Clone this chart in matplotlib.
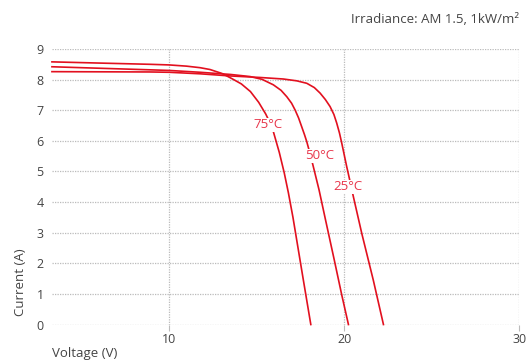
import matplotlib
matplotlib.use("Agg")
import matplotlib.pyplot as plt

# I-V curves (voltage in V, current in A)
v_75 = [3.31, 6.06, 8.91, 10.0, 11.0, 11.77, 12.34, 13.03, 13.60, 14.13,
        14.65, 15.12, 15.52, 15.76, 15.96, 16.13, 16.30, 16.44, 16.58, 16.70,
        16.82, 17.08, 17.37, 17.66, 17.88, 18.10]
i_75 = [8.58, 8.54, 8.50, 8.48, 8.44, 8.39, 8.33, 8.20, 8.03, 7.86,
        7.61, 7.26, 6.88, 6.60, 6.30, 5.96, 5.62, 5.29, 4.96, 4.63,
        4.30, 3.50, 2.50, 1.50, 0.75, 0.0]

v_50 = [3.31, 8.91, 10.0, 11.77, 13.49, 14.63, 15.31, 15.96, 16.40, 16.73,
        17.00, 17.20, 17.40, 17.58, 17.74, 17.87, 18.09, 18.29, 18.57, 18.94,
        19.44, 19.87, 20.25]
i_50 = [8.42, 8.32, 8.30, 8.24, 8.17, 8.10, 8.01, 7.83, 7.65, 7.44,
        7.23, 7.01, 6.75, 6.46, 6.20, 5.97, 5.51, 5.05, 4.40, 3.42,
        2.11, 0.96, 0.0]

v_25 = [3.31, 8.91, 10.0, 11.77, 13.49, 15.20, 16.53, 17.30, 17.87, 18.30,
        18.63, 18.93, 19.20, 19.42, 19.58, 19.74, 19.87, 20.15, 20.30, 20.53,
        21.01, 21.67, 22.25]
i_25 = [8.26, 8.25, 8.24, 8.19, 8.12, 8.07, 8.02, 7.96, 7.88, 7.74,
        7.56, 7.35, 7.12, 6.86, 6.58, 6.25, 5.92, 5.16, 4.78, 4.18,
        2.98, 1.45, 0.0]

curve_labels = ["75°C", "50°C", "25°C"]
label_v = [15.66, 18.59, 20.23]
label_i = [6.52, 5.51, 4.50]

LINE = "#e2101f"
LABEL = "#e8364b"
TEXT = "#444444"

plt.rcParams["font.family"] = ["Open Sans", "DejaVu Sans"]

fig = plt.figure(figsize=(5.27, 3.63), dpi=100)
ax = fig.add_axes([0.0987, 0.106, 0.8863, 0.759])

for v, i in [(v_75, i_75), (v_50, i_50), (v_25, i_25)]:
    ax.plot(v, i, color=LINE, lw=1.2, zorder=3, clip_on=False,
            solid_joinstyle="round")

for txt, x, y in zip(curve_labels, label_v, label_i):
    ax.text(x, y, txt, color=LABEL, fontsize=9.5, ha="center", va="center",
            zorder=4, bbox=dict(facecolor="white", edgecolor="none", pad=0.5))

ax.set_xlim(3.314, 30)
ax.set_ylim(0, 9)
ax.set_xticks([10, 20, 30])
ax.set_yticks(range(10))
ax.grid(True, color="#bbbbbb", linestyle=(0, (1, 1)), linewidth=0.9)
ax.set_axisbelow(True)
for s in ax.spines.values():
    s.set_visible(False)
ax.tick_params(axis="y", length=0, pad=6, labelsize=9, labelcolor=TEXT)
ax.tick_params(axis="x", length=4, color="#bbbbbb", pad=2, labelsize=9,
               labelcolor=TEXT)

fig.text(0.038, 0.223, "Current (A)", rotation=90, ha="center", va="center",
         fontsize=9.5, color=TEXT)
fig.text(0.0987, 0.025, "Voltage (V)", ha="left", va="center",
         fontsize=9.5, color=TEXT)
fig.text(0.985, 0.945, "Irradiance: AM 1.5, 1kW/m²", ha="right",
         va="center", fontsize=9.5, color=TEXT)

fig.savefig("out.png", dpi=100)
